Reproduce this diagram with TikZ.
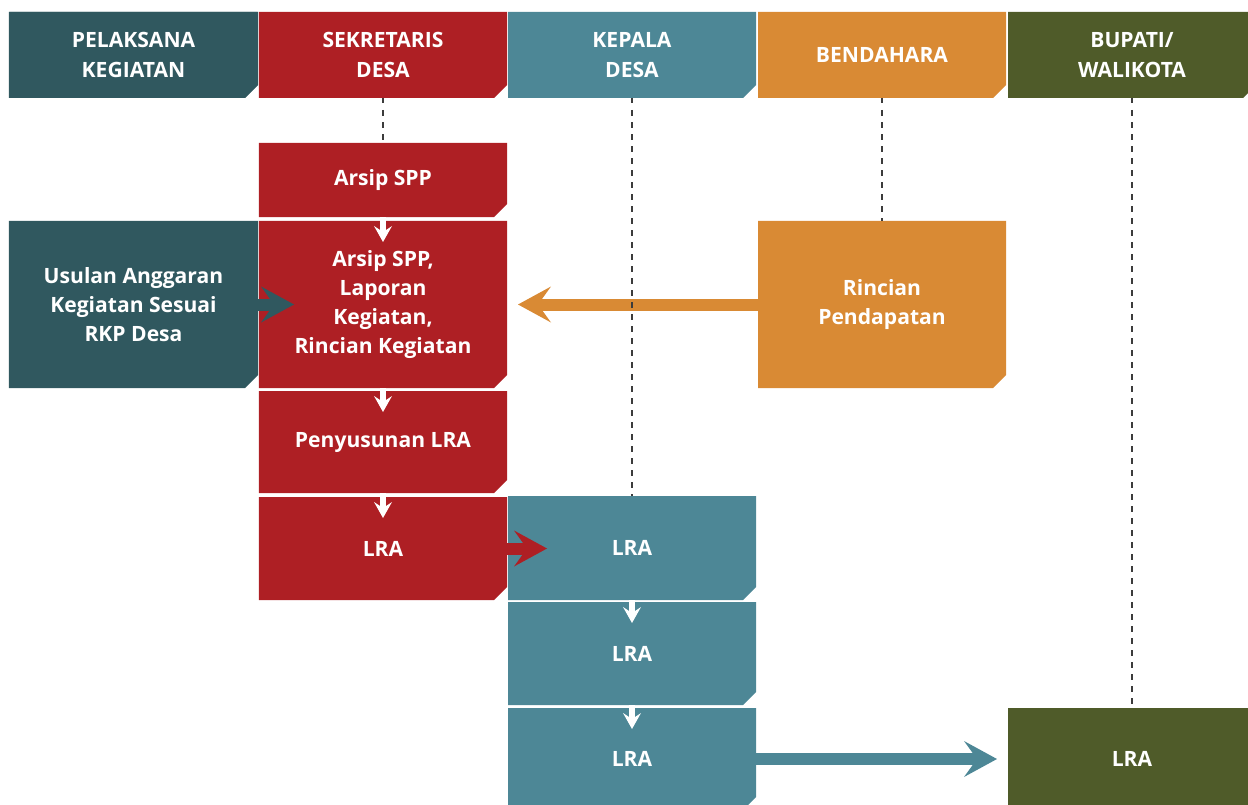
\documentclass[tikz,border=0pt]{standalone}
\usepackage{fontspec}
\setmainfont{Open Sans}
\usetikzlibrary{shapes.misc,arrows.meta,calc}

\definecolor{pelaksana}{HTML}{30585F}
\definecolor{sekretaris}{HTML}{AE1F24}
\definecolor{kepala}{HTML}{4D8796}
\definecolor{bendahara}{HTML}{D98A34}
\definecolor{bupati}{HTML}{4F5B29}
\definecolor{dashgray}{HTML}{3C3C3C}

\begin{document}
\begin{tikzpicture}[x=0.2mm, y=-0.2mm,
    box/.style={chamfered rectangle, chamfered rectangle corners=south east,
        chamfered rectangle xsep=1.3mm, chamfered rectangle ysep=1.3mm,
        minimum width=49.6mm, inner sep=0pt, outer sep=0pt, text=white,
        align=center, font=\fontsize{12}{16.4}\selectfont\bfseries},
    head/.style={box, minimum height=17.2mm, font=\fontsize{12}{17.5}\selectfont\bfseries},
    flow/.style={line width=2.4mm, -{Stealth[length=6.6mm, width=7.2mm, inset=2.6mm, line width=0pt]}},
    down/.style={white, line width=1.2mm, -{Stealth[length=3.2mm, width=3.6mm, inset=1.2mm, line width=0pt]}},
    dashline/.style={dashgray, line width=0.55mm, dash pattern=on 1.1mm off 1.3mm}]
    \useasboundingbox (0,0) rectangle (1248,805);

    % Column headers
    \foreach \name/\x/\col/\txt in {hPel/133.5/pelaksana/{PELAKSANA\\KEGIATAN},
        hSek/383/sekretaris/{SEKRETARIS\\DESA}, hKep/632/kepala/{KEPALA\\DESA},
        hBen/882/bendahara/{BENDAHARA}, hBup/1132/bupati/{BUPATI/\\WALIKOTA}} {
        \node[head, fill=\col] (\name) at (\x,55) {\txt};
    }
    \node[head, fill=pelaksana, minimum width=49.8mm] at (hPel) {PELAKSANA\\KEGIATAN};

    % Sekretaris desa
    \node[box, fill=sekretaris, minimum height=14.8mm] (arsip) at (383,180) {Arsip SPP};
    \node[box, fill=sekretaris, minimum height=33.4mm] (rekap) at (383,304.5)
        {Arsip SPP,\\Laporan\\Kegiatan,\\Rincian Kegiatan};
    \node[box, fill=sekretaris, minimum height=20.4mm] (susun) at (383,442) {Penyusunan LRA};
    \node[box, fill=sekretaris, minimum height=20.6mm] (lraSek) at (383,548.5) {LRA};

    % Pelaksana kegiatan and bendahara
    \node[box, fill=pelaksana, minimum width=49.8mm, minimum height=33.4mm] (usulan) at (133.5,304.5)
        {Usulan Anggaran\\Kegiatan Sesuai\\RKP Desa};
    \node[box, fill=bendahara, minimum height=33.4mm] (rincian) at (882,304.5) {Rincian\\Pendapatan};

    % Kepala desa and bupati
    \node[box, fill=kepala, minimum height=20.8mm] (lraKep1) at (632,548) {LRA};
    \node[box, fill=kepala, minimum height=20.6mm] (lraKep2) at (632,653.5) {LRA};
    \node[box, fill=kepala, minimum height=20.4mm] (lraKep3) at (632,759) {LRA};
    \node[box, fill=bupati, minimum height=20.4mm] (lraBup) at (1132,759) {LRA};

    % Flow inside a column
    \foreach \a/\b in {arsip/rekap, rekap/susun, susun/lraSek, lraKep1/lraKep2, lraKep2/lraKep3} {
        \draw[down] (\a.south) -- ($(\b.north)+(0,21)$);
    }

    % Flow between columns
    \draw[flow, pelaksana] (usulan.east) -- ($(usulan.east)+(36,0)$);
    \draw[flow, bendahara] (rincian.west) -- ($(rekap.east)+(11,0)$);
    \draw[flow, sekretaris] (lraSek.east) -- ($(lraSek.east)+(40,0)$);
    \draw[flow, kepala] (lraKep3.east) -- ($(lraBup.west)+(-11,0)$);

    % Lifelines
    \draw[dashline] (hSek.south) -- (arsip.north);
    \draw[dashline] (hKep.south) -- (lraKep1.north);
    \draw[dashline] (hBen.south) -- (rincian.north);
    \draw[dashline] (hBup.south) -- (lraBup.north);
\end{tikzpicture}
\end{document}
